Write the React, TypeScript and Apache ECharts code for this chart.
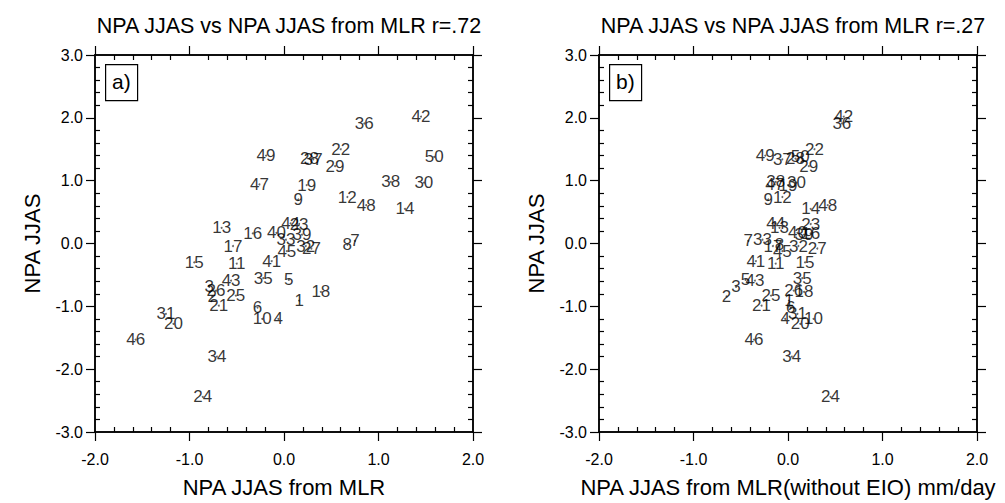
import React, { useEffect, useRef } from "react";
import * as echarts from "echarts";

// Case numbers (years 1..50)
const caseIds = [
  "1", "2", "3", "4", "5", "6", "7", "8", "9", "10",
  "11", "12", "13", "14", "15", "16", "17", "18", "19", "20",
  "21", "22", "23", "24", "25", "26", "27", "28", "29", "30",
  "31", "32", "33", "34", "35", "36", "37", "38", "39", "40",
  "41", "42", "43", "44", "45", "46", "47", "48", "49", "50",
];

// Observed NPA JJAS (y in both panels)
const npaObs = [
  -0.91, -0.84, -0.69, -1.2, -0.58, -1.02, 0.04, -0.02, 0.7, -1.2,
  -0.32, 0.74, 0.25, 0.55, -0.3, 0.16, -0.04, -0.77, 0.93, -1.28,
  -0.99, 1.5, 0.31, -2.44, -0.83, -0.75, -0.08, 1.35, 1.23, 0.97,
  -1.12, -0.04, 0.06, -1.8, -0.55, 1.91, 1.34, 0.98, 0.14, 0.17,
  -0.28, 2.02, -0.59, 0.32, -0.12, -1.53, 0.94, 0.61, 1.4, 1.38,
];

// NPA JJAS from MLR (panel a x)
const npaMlr = [
  0.16, -0.76, -0.79, -0.06, 0.05, -0.28, 0.75, 0.67, 0.15, -0.23,
  -0.5, 0.67, -0.66, 1.28, -0.95, -0.33, -0.54, 0.39, 0.24, -1.17,
  -0.69, 0.6, 0.16, -0.86, -0.51, -0.72, 0.29, 0.27, 0.54, 1.48,
  -1.25, 0.23, 0.02, -0.71, -0.22, 0.85, 0.31, 1.13, 0.19, -0.08,
  -0.13, 1.45, -0.56, 0.07, 0.03, -1.57, -0.26, 0.87, -0.19, 1.59,
];

// NPA JJAS from MLR without EIO (panel b x)
const npaMlrNoEio = [
  0.01, -0.65, -0.55, -0.03, -0.45, 0.03, -0.42, -0.09, -0.21, 0.27,
  -0.13, -0.06, -0.09, 0.24, 0.18, 0.24, -0.16, 0.17, 0.0, 0.13,
  -0.28, 0.28, 0.24, 0.45, -0.18, 0.06, 0.31, 0.08, 0.22, 0.09,
  0.1, 0.11, -0.27, 0.04, 0.15, 0.57, -0.06, -0.13, 0.17, 0.1,
  -0.34, 0.59, -0.35, -0.13, -0.06, -0.36, -0.14, 0.42, -0.24, 0.13,
];

const titles = [
  "NPA JJAS vs NPA JJAS from MLR r=.72",
  "NPA JJAS vs NPA JJAS from MLR r=.27",
];
const xNames = ["NPA JJAS from MLR", "NPA JJAS from MLR(without EIO) mm/day"];
const yName = "NPA JJAS";
const panelTags = ["a)", "b)"];
const xRange = [-2, 2];
const yRange = [-3, 3];

const FONT = "'Liberation Sans', Arial, Helvetica, sans-serif";
const GRID_LEFT = [95, 599];
const GRID_TOP = 55;
const GRID_SIZE = 378;

const lineStyle = { color: "#000", width: 1.5 };
const tickStyle = { color: "#000", width: 1.2 };

function makeAxes(kind: "x" | "y", gi: number) {
  const isX = kind === "x";
  const [min, max] = isX ? xRange : yRange;
  const sides = isX ? ["bottom", "top"] : ["left", "right"];
  const base = {
    gridIndex: gi,
    type: "value",
    min,
    max,
    interval: 1,
    splitLine: { show: false },
    minorSplitLine: { show: false },
    axisLine: { show: true, onZero: false, lineStyle },
    silent: true,
  };
  const axes: any[] = [];
  sides.forEach((pos, si) => {
    const labelled = si === 0;
    axes.push({
      ...base,
      position: pos,
      axisTick: { show: true, inside: false, length: 9, lineStyle: tickStyle },
      minorTick: { show: false },
      axisLabel: labelled
        ? {
            show: true,
            margin: isX ? 19 : 12,
            fontSize: 16,
            color: "#000",
            fontFamily: FONT,
            formatter: (v: number) => v.toFixed(1),
          }
        : { show: false },
      ...(labelled
        ? {
            name: isX ? xNames[gi] : yName,
            nameLocation: "middle",
            nameGap: isX ? 44 : 52,
            nameTextStyle: { fontSize: 22, color: "#000", fontFamily: FONT },
          }
        : {}),
    });
    axes.push({
      ...base,
      position: pos,
      axisTick: { show: false, inside: true },
      minorTick: { show: true, splitNumber: 5, length: 5, lineStyle: tickStyle },
      axisLabel: { show: false },
    });
  });
  return axes;
}

export default function App() {
  const ref = useRef<HTMLDivElement>(null);
  useEffect(() => {
    if (!ref.current) return;
    const chart = echarts.init(ref.current, undefined, { renderer: "svg" });
    const xs = [npaMlr, npaMlrNoEio];
    const option: any = {
      animation: false,
      backgroundColor: "#fff",
      title: [0, 1].map((gi) => ({
        text: titles[gi],
        left: GRID_LEFT[gi] + GRID_SIZE / 2,
        top: 10,
        textAlign: "center",
        textStyle: { fontSize: 21.5, fontWeight: "normal", color: "#000", fontFamily: FONT },
      })),
      grid: [0, 1].map((gi) => ({
        left: GRID_LEFT[gi],
        top: GRID_TOP,
        width: GRID_SIZE,
        height: GRID_SIZE,
      })),
      xAxis: [...makeAxes("x", 0), ...makeAxes("x", 1)],
      yAxis: [...makeAxes("y", 0), ...makeAxes("y", 1)],
      series: [0, 1].map((gi) => ({
        type: "scatter",
        xAxisIndex: gi * 4,
        yAxisIndex: gi * 4,
        symbol: "circle",
        symbolSize: 2,
        itemStyle: { color: "#444" },
        silent: true,
        label: {
          show: true,
          position: "inside",
          formatter: "{b}",
          fontSize: 17,
          color: "#000",
          textBorderWidth: 0,
          textBorderColor: "transparent",
          fontFamily: FONT,
        },
        data: caseIds.map((id, i) => ({ name: id, value: [xs[gi][i], npaObs[i]] })),
      })),
      graphic: [0, 1].flatMap((gi) => [
        {
          type: "rect",
          left: GRID_LEFT[gi] + 10,
          top: GRID_TOP + 9,
          shape: { width: 32, height: 36 },
          style: { fill: "#fff", stroke: "#000", lineWidth: 1.2 },
          z: 10,
        },
        {
          type: "text",
          left: GRID_LEFT[gi] + 17,
          top: GRID_TOP + 16,
          style: { text: panelTags[gi], fontSize: 21, fill: "#000", fontFamily: FONT },
          z: 11,
        },
      ]),
    };
    chart.setOption(option);
    return () => chart.dispose();
  }, []);
  return (
    <div
      ref={ref}
      style={{ position: "fixed", left: 0, top: 0, width: 1005, height: 503 }}
    />
  );
}
